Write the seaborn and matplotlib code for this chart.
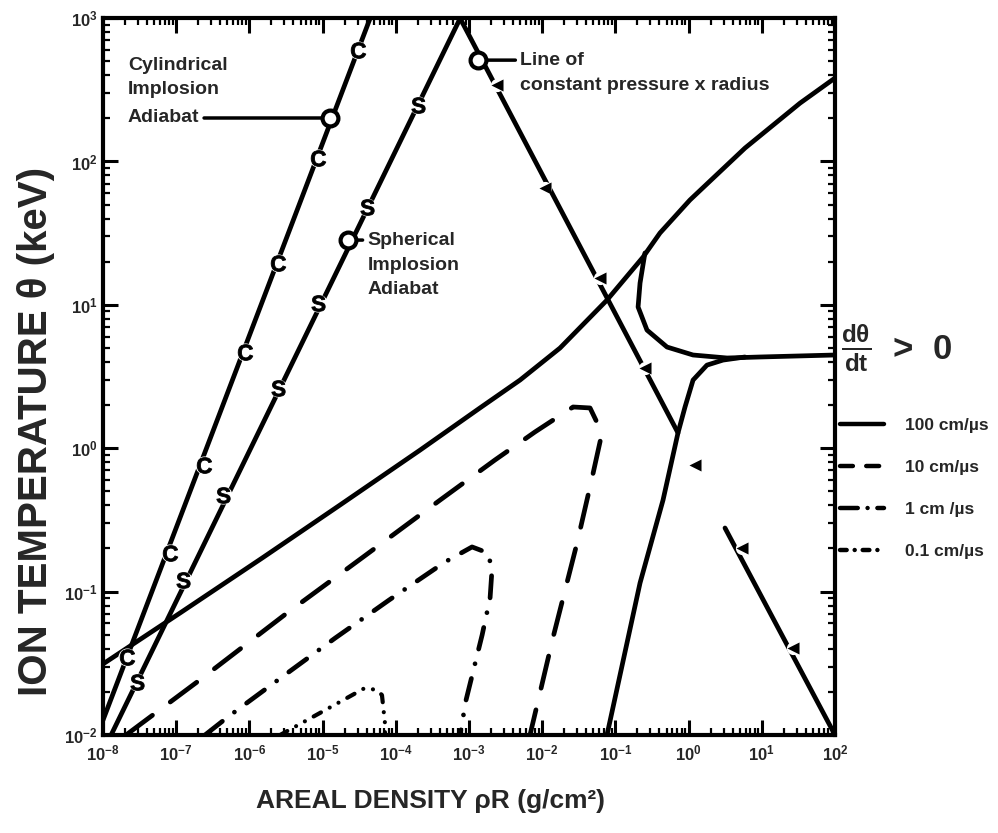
import matplotlib.pyplot as plt
import seaborn as sns
import numpy as np
from matplotlib.lines import Line2D
from matplotlib.ticker import LogLocator, NullFormatter

# adiabats: areal density (g/cm^2) vs ion temperature (keV)
cyl_rho = [1.0e-8, 4.47e-5]
cyl_temp = [0.0127, 1000]
cyl_mark_rho = [2.13e-8, 8.22e-8, 2.40e-7, 8.71e-7, 2.46e-6, 8.65e-6, 3.05e-5]
cyl_mark_temp = [0.035, 0.186, 0.764, 4.69, 19.5, 106, 598]

sph_rho = [1.29e-8, 7.6e-4]
sph_temp = [0.01, 1000]
sph_mark_rho = [2.91e-8, 1.24e-7, 4.36e-7, 2.46e-6, 8.65e-6, 4.05e-5, 2.01e-4]
sph_mark_temp = [0.0234, 0.120, 0.472, 2.63, 10.3, 48.1, 247]

# line of constant pressure x radius (two pieces)
pr_rho_a = [7.53e-4, 0.716]
pr_temp_a = [1000, 1.28]
pr_rho_b = [3.14, 100]
pr_temp_b = [0.278, 0.01]
pr_mark_rho = [2.42e-3, 1.09e-2, 0.0617, 0.253, 1.22, 5.37, 26.7]
pr_mark_temp = [341, 65.3, 15.4, 3.62, 0.764, 0.201, 0.0404]

# annotated points
ann_cyl = (1.26e-5, 201)
ann_sph = (2.22e-5, 28.3)
ann_pr = (1.33e-3, 509)

# d(theta)/dt contours
c100a_rho = [1e-8, 1.13e-7, 1.49e-6, 1.73e-5, 2.14e-4, 1.41e-3, 4.98e-3, 0.0175,
             0.0767, 0.238, 0.406, 1.04, 5.89, 33.2, 100]
c100a_temp = [0.0313, 0.0710, 0.1714, 0.402, 0.970, 1.91, 2.99, 5.0,
              10.8, 21.5, 31.7, 53.8, 124, 255, 382]
c100b_rho = [0.253, 0.217, 0.204, 0.270, 0.507, 1.15, 3.35, 9.45, 100]
c100b_temp = [23.0, 14.2, 9.66, 6.67, 5.08, 4.47, 4.26, 4.33, 4.47]
c100c_rho = [0.0767, 0.217, 0.447, 0.716, 0.893, 1.15, 1.78, 2.95, 5.89]
c100c_temp = [0.01, 0.115, 0.435, 1.28, 1.94, 2.99, 3.80, 4.12, 4.33]

c10_rho = [2.06e-8, 1.92e-7, 3.27e-6, 3.56e-5, 4.02e-4, 2.26e-3, 7.98e-3, 0.0264,
           0.0450, 0.0656, 0.0479, 0.0299, 0.0141, 6.81e-3]
c10_temp = [0.01, 0.0234, 0.0710, 0.174, 0.435, 0.828, 1.30, 1.94,
            1.91, 1.28, 0.619, 0.218, 0.0482, 0.01]

c1_rho = [2.47e-7, 5.11e-7, 2.79e-6, 1.48e-5, 8.07e-5, 4.70e-4, 1.10e-3, 1.82e-3,
          2.06e-3, 1.94e-3, 1.51e-3, 9.10e-4, 7.53e-4]
c1_temp = [0.01, 0.0134, 0.0254, 0.0474, 0.0873, 0.161, 0.205, 0.186,
           0.142, 0.0902, 0.0498, 0.0175, 0.01]

c01_rho = [2.62e-6, 6.12e-6, 1.90e-5, 3.79e-5, 5.53e-5, 6.47e-5, 7.11e-5, 7.11e-5]
c01_temp = [0.01, 0.0127, 0.0175, 0.0213, 0.0206, 0.0190, 0.0121, 0.01]

legend_labels = ["100 cm/µs", "10 cm/µs", "1 cm /µs", "0.1 cm/µs"]

sns.set_theme(style="ticks")
plt.rcParams["font.family"] = ["Liberation Sans", "DejaVu Sans"]
plt.rcParams["font.weight"] = "bold"
plt.rcParams["mathtext.fontset"] = "custom"
plt.rcParams["mathtext.rm"] = "Liberation Sans:bold"
plt.rcParams["mathtext.it"] = "Liberation Sans:bold"
plt.rcParams["mathtext.bf"] = "Liberation Sans:bold"
plt.rcParams["mathtext.default"] = "bf"

fig = plt.figure(figsize=(9.98, 8.33), dpi=100)
ax = fig.add_axes([0.1032, 0.1176, 0.7335, 0.8607])
ax.set_xscale("log")
ax.set_yscale("log")

LW = 3.4
styles = {
    "solid": "-",
    "dash": (0, (7, 4.7)),
    "dashdot": (0, (4.7, 3.2, 0.01, 3.2)),
    "dashdotdot": (0, (2, 2.4, 0.01, 2.4, 0.01, 2.4)),
}
legend_styles = ["-", (0, (2.9, 3.0)), (0, (4.0, 2.2, 0.01, 2.2)),
                 (0, (1.5, 1.8, 0.01, 1.8))]


def curve(x, y, ls="-", lw=LW):
    sns.lineplot(x=x, y=y, sort=False, estimator=None, ax=ax, color="black",
                 lw=lw, linestyle=ls, dash_capstyle="round",
                 solid_capstyle="round", zorder=2)


curve(cyl_rho, cyl_temp)
curve(sph_rho, sph_temp)
curve(pr_rho_a, pr_temp_a)
curve(pr_rho_b, pr_temp_b)
curve(c100a_rho, c100a_temp)
curve(c100b_rho, c100b_temp)
curve(c100c_rho, c100c_temp)
curve(c10_rho, c10_temp, styles["dash"])
curve(c1_rho, c1_temp, styles["dashdot"])
curve(c01_rho, c01_temp, styles["dashdotdot"], lw=3.0)

# letter markers along the adiabats
for xs, ys, letter in [(cyl_mark_rho, cyl_mark_temp, "C"),
                       (sph_mark_rho, sph_mark_temp, "S")]:
    sns.scatterplot(x=xs, y=ys, marker="o", s=170, color="white",
                    linewidth=0, ax=ax, zorder=3)
    sns.scatterplot(x=xs, y=ys, marker=f"${letter}$", s=130, color="black",
                    linewidth=0.6, edgecolor="black", ax=ax, zorder=4)

sns.scatterplot(x=pr_mark_rho, y=pr_mark_temp, marker="o", s=90, color="white",
                linewidth=0, ax=ax, zorder=3)
sns.scatterplot(x=pr_mark_rho, y=pr_mark_temp, marker="<", s=75, color="black",
                linewidth=0, ax=ax, zorder=4)

# annotated open circles
for pt in (ann_cyl, ann_sph, ann_pr):
    sns.scatterplot(x=[pt[0]], y=[pt[1]], marker="o", s=130, color="white",
                    edgecolor="black", linewidth=3, ax=ax, zorder=5)

tkw = dict(fontsize=14, fontweight="bold", linespacing=1.5, ha="left",
           va="center", transform=ax.transAxes)
arr = dict(arrowstyle="-", lw=2.5, color="black", shrinkA=1, shrinkB=6)
ytrans = ax.get_yaxis_transform()

ax.text(0.034, 0.917, "Cylindrical\nImplosion", **tkw)
ax.annotate("Adiabat", xy=ann_cyl, xytext=(0.034, ann_cyl[1]), textcoords=ytrans,
            fontsize=14, fontweight="bold", ha="left", va="center",
            arrowprops=dict(relpos=(1.0, 0.5), **arr))

ax.annotate("Spherical", xy=ann_sph, xytext=(0.361, ann_sph[1]), textcoords=ytrans,
            fontsize=14, fontweight="bold", ha="left", va="center",
            arrowprops=dict(relpos=(0.0, 0.5), **arr))
ax.text(0.361, 0.638, "Implosion\nAdiabat", **tkw)

ax.annotate("Line of", xy=ann_pr, xytext=(0.5697, ann_pr[1]), textcoords=ytrans,
            fontsize=14, fontweight="bold", ha="left", va="center",
            arrowprops=dict(relpos=(0.0, 0.5), **arr))
ax.text(0.5697, 0.9066, "constant pressure x radius", **tkw)

ax.set_xlim(1e-8, 1e2)
ax.set_ylim(1e-2, 1e3)
ax.xaxis.set_major_locator(LogLocator(base=10, numticks=20))
ax.yaxis.set_major_locator(LogLocator(base=10, numticks=20))
for axis in (ax.xaxis, ax.yaxis):
    axis.set_minor_locator(LogLocator(base=10, subs=np.arange(2, 10), numticks=100))
    axis.set_minor_formatter(NullFormatter())

for sp in ax.spines.values():
    sp.set_linewidth(3)
    sp.set_color("black")
ax.tick_params(which="both", direction="in", top=True, right=True, color="black")
ax.tick_params(which="major", length=11, width=2.2, labelsize=12, pad=4)
ax.tick_params(axis="x", which="major", pad=6)
ax.tick_params(which="minor", length=5, width=1.6)
for lab in ax.get_xticklabels() + ax.get_yticklabels():
    lab.set_fontweight("bold")

ax.set_xlabel("AREAL DENSITY ρR (g/cm²)", fontsize=19, fontweight="bold")
ax.set_ylabel("ION TEMPERATURE θ (keV)", fontsize=29, fontweight="bold")
ax.xaxis.set_label_coords(0.448, -0.075)
ax.yaxis.set_label_coords(-0.066, 0.423)

# legend outside on the right
ax.text(1.008, 0.54, r"$\frac{d\theta}{dt}$  >  0", transform=ax.transAxes,
        fontsize=25, fontweight="bold", va="center", ha="left")
handles = [Line2D([], [], color="black", lw=3.2, linestyle=ls, dash_capstyle="round")
           for ls in legend_styles]
leg = ax.legend(handles, legend_labels, loc="upper left", bbox_to_anchor=(1.007, 0.443),
                frameon=False, fontsize=12.5, borderpad=0, borderaxespad=0,
                handlelength=2.5, handletextpad=1.25, labelspacing=1.56)
for t in leg.get_texts():
    t.set_fontweight("bold")

fig.savefig("out.png", dpi=100, facecolor="white")
